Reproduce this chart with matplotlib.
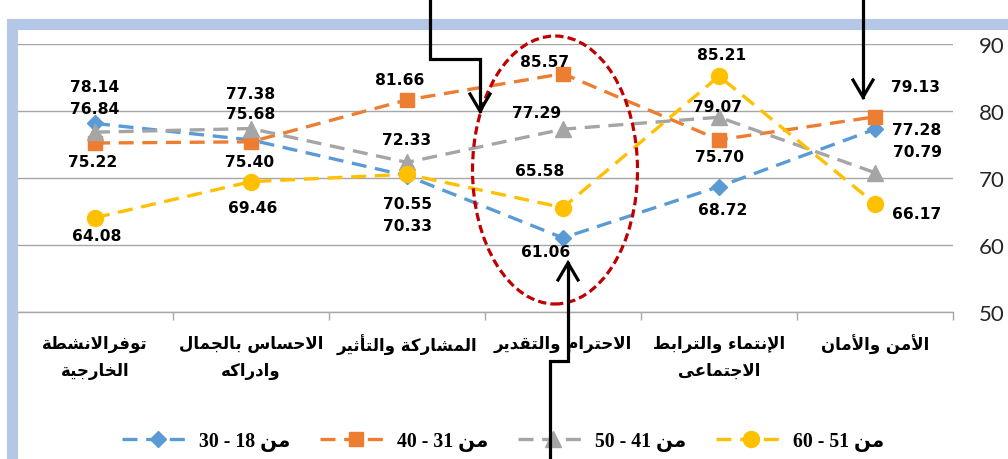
import matplotlib
matplotlib.use("Agg")
import matplotlib.pyplot as plt
from matplotlib.lines import Line2D
from matplotlib.patches import Ellipse, Rectangle

# ---------------- data ----------------
categories = [
    ["توفرالانشطة", "الخارجية"],
    ["الاحساس بالجمال", "وادراكه"],
    ["المشاركة والتأثير"],
    ["الاحترام والتقدير"],
    ["الإنتماء والترابط", "الاجتماعى"],
    ["الأمن والأمان"],
]
series_names = ["من 18 - 30", "من 31 - 40", "من 41 - 50", "من 51 - 60"]
age_18_30 = [78.14, 75.68, 70.33, 61.06, 68.72, 77.28]
age_31_40 = [75.22, 75.40, 81.66, 85.57, 75.70, 79.13]
age_41_50 = [76.84, 77.38, 72.33, 77.29, 79.07, 70.79]
age_51_60 = [64.08, 69.46, 70.55, 65.58, 85.21, 66.17]
y_ticks = [50, 60, 70, 80, 90]

# ---------------- minimal Arabic shaping (presentation forms) ----------------
FORMS = {
    'ء': ('\uFE80', None, None, None),
    'آ': ('\uFE81', '\uFE82', None, None),
    'أ': ('\uFE83', '\uFE84', None, None),
    'إ': ('\uFE87', '\uFE88', None, None),
    'ا': ('\uFE8D', '\uFE8E', None, None),
    'ب': ('\uFE8F', '\uFE90', '\uFE91', '\uFE92'),
    'ة': ('\uFE93', '\uFE94', None, None),
    'ت': ('\uFE95', '\uFE96', '\uFE97', '\uFE98'),
    'ث': ('\uFE99', '\uFE9A', '\uFE9B', '\uFE9C'),
    'ج': ('\uFE9D', '\uFE9E', '\uFE9F', '\uFEA0'),
    'ح': ('\uFEA1', '\uFEA2', '\uFEA3', '\uFEA4'),
    'خ': ('\uFEA5', '\uFEA6', '\uFEA7', '\uFEA8'),
    'د': ('\uFEA9', '\uFEAA', None, None),
    'ر': ('\uFEAD', '\uFEAE', None, None),
    'س': ('\uFEB1', '\uFEB2', '\uFEB3', '\uFEB4'),
    'ش': ('\uFEB5', '\uFEB6', '\uFEB7', '\uFEB8'),
    'ط': ('\uFEC1', '\uFEC2', '\uFEC3', '\uFEC4'),
    'ع': ('\uFEC9', '\uFECA', '\uFECB', '\uFECC'),
    'ف': ('\uFED1', '\uFED2', '\uFED3', '\uFED4'),
    'ق': ('\uFED5', '\uFED6', '\uFED7', '\uFED8'),
    'ك': ('\uFED9', '\uFEDA', '\uFEDB', '\uFEDC'),
    'ل': ('\uFEDD', '\uFEDE', '\uFEDF', '\uFEE0'),
    'م': ('\uFEE1', '\uFEE2', '\uFEE3', '\uFEE4'),
    'ن': ('\uFEE5', '\uFEE6', '\uFEE7', '\uFEE8'),
    'ه': ('\uFEE9', '\uFEEA', '\uFEEB', '\uFEEC'),
    'و': ('\uFEED', '\uFEEE', None, None),
    'ى': ('\uFEEF', '\uFEF0', None, None),
    'ي': ('\uFEF1', '\uFEF2', '\uFEF3', '\uFEF4'),
}
LAM_ALEF = {'آ': ('\uFEF5', '\uFEF6'), 'أ': ('\uFEF7', '\uFEF8'),
            'إ': ('\uFEF9', '\uFEFA'), 'ا': ('\uFEFB', '\uFEFC')}


def shape_word(word):
    units = []
    i = 0
    while i < len(word):
        c = word[i]
        if c == 'ل' and i + 1 < len(word) and word[i + 1] in LAM_ALEF:
            units.append(('LA', word[i + 1]))
            i += 2
        else:
            units.append(('C', c))
            i += 1

    def joins_next(u):
        if u[0] == 'LA':
            return False
        f = FORMS.get(u[1])
        return f is not None and f[2] is not None

    def joins_prev(u):
        if u[0] == 'LA':
            return True
        f = FORMS.get(u[1])
        return f is not None and f[1] is not None

    out = []
    for k, u in enumerate(units):
        prev_j = k > 0 and joins_next(units[k - 1]) and joins_prev(u)
        next_j = k + 1 < len(units) and joins_next(u) and joins_prev(units[k + 1])
        if u[0] == 'LA':
            iso, fin = LAM_ALEF[u[1]]
            out.append(fin if prev_j else iso)
            continue
        f = FORMS.get(u[1])
        if f is None:
            out.append(u[1])
            continue
        if prev_j and next_j:
            out.append(f[3])
        elif prev_j:
            out.append(f[1])
        elif next_j:
            out.append(f[2])
        else:
            out.append(f[0])
    return ''.join(out)


def visual(text):
    toks = text.split(' ')
    res = []
    for t in reversed(toks):
        if any('\u0600' <= ch <= '\u06FF' for ch in t):
            res.append(shape_word(t)[::-1])
        else:
            res.append(t)
    return ' '.join(res)


# ---------------- figure ----------------
W, H = 1008, 460
fig = plt.figure(figsize=(W / 100, H / 100), dpi=100)
fig.patch.set_facecolor('white')


def P(x, y):
    return (x / W, 1 - y / H)


ax = fig.add_axes([17 / W, 1 - 313 / H, (953 - 17) / W, (313 - 45) / H])
ax.set_facecolor('white')

colors = ['#5B9BD5', '#ED7D31', '#A5A5A5', '#FFC000']
markers = ['D', 's', '^', 'o']
msizes = [8.5, 10, 11, 11.5]
all_series = [age_18_30, age_31_40, age_41_50, age_51_60]
x = list(range(len(categories)))

handles = []
for vals, c, m, ms, name in zip(all_series, colors, markers, msizes, series_names):
    ln, = ax.plot(x, vals, color=c, lw=2.4, linestyle=(0, (4.5, 2.6)),
                  marker=m, markersize=ms, markerfacecolor=c, markeredgecolor=c,
                  zorder=3, label=visual(name))
    handles.append(ln)

# data labels (offsets in pixels: dx, dy with dy downward)
offsets = [
    [(0, -37), (0, -26), (0, 50), (-17, 14), (4, 23), (42, 0)],
    [(-2, 18), (-1, 20), (-7, -20), (-18, -12), (1, 17), (40, -30)],
    [(0, -24), (0, -35), (0, -23), (-26, -17), (-1, -11), (42, -21)],
    [(2, 18), (2, 26), (0, 29), (-23, -37), (3, -22), (42, 10)],
]
for vals, offs in zip(all_series, offsets):
    for xi, v, (dx, dy) in zip(x, vals, offs):
        ax.annotate(f"{v:.2f}", (xi, v), xytext=(dx, -dy), textcoords='offset pixels',
                    ha='center', va='center', fontsize=11.2, fontweight='bold',
                    family='DejaVu Sans', color='black', zorder=5)

ax.set_xlim(-0.5, len(categories) - 0.5)
ax.set_ylim(50, 90)
ax.set_yticks(y_ticks)
ax.yaxis.tick_right()
ax.tick_params(axis='y', length=0, pad=18.5, labelsize=16, labelcolor='#262626')
for lab in ax.get_yticklabels():
    lab.set_family('Lato')
    lab.set_horizontalalignment('left')
ax.grid(axis='y', color='#A6A6A6', lw=1.0)
ax.set_axisbelow(True)
for s in ['top', 'left', 'right']:
    ax.spines[s].set_visible(False)
ax.spines['bottom'].set_color('#A6A6A6')
ax.spines['bottom'].set_linewidth(1.0)

ax.set_xticks(x)
ax.set_xticklabels(['\n'.join(visual(l) for l in lines) for lines in categories],
                   fontsize=12, fontweight='bold', family='DejaVu Sans', linespacing=1.6)
ax.tick_params(axis='x', which='major', length=0, pad=16)
ax.set_xticks([i - 0.5 for i in range(len(categories) + 1)], minor=True)
ax.tick_params(axis='x', which='minor', length=6, color='#A6A6A6', width=1.0, direction='out')

# legend
leg = fig.legend(handles=handles, loc='center', bbox_to_anchor=(P(503, 442)),
                 ncol=4, frameon=False, handlelength=3.6, handletextpad=0.3,
                 columnspacing=1.5, numpoints=1,
                 prop={'family': ['Liberation Serif', 'DejaVu Sans'], 'weight': 'bold', 'size': 14.2})

# frame
fig.add_artist(Rectangle(P(11.5, 466), (1020 - 11.5) / W, (466 - 24.5) / H,
                         transform=fig.transFigure, fill=False,
                         edgecolor='#B4C7E7', lw=8, zorder=10))

# annotations: ellipse and arrows
cx, cy = P(555, 171)
fig.add_artist(Ellipse((cx, cy), 165 / W, 268 / H, transform=fig.transFigure,
                       fill=False, edgecolor='#C00000', lw=2.3,
                       linestyle=(0, (2.6, 1.3)), zorder=11))


def polyline(pts, lw=2.3):
    xs = [p[0] / W for p in pts]
    ys = [1 - p[1] / H for p in pts]
    fig.add_artist(Line2D(xs, ys, transform=fig.transFigure, color='black',
                          lw=lw, solid_joinstyle='miter', zorder=12))


# arrow 1 (top-left, pointing down)
polyline([(430, 0), (430, 60), (480, 60), (480, 112)])
polyline([(470, 95), (480, 112), (490, 95)])
# arrow 2 (top-right, pointing down)
polyline([(863, 0), (863, 98)])
polyline([(853, 81), (863, 98), (873, 81)])
# arrow 3 (bottom, pointing up)
polyline([(550, 465), (550, 362), (568, 362), (568, 264)])
polyline([(558, 281), (568, 264), (578, 281)])

fig.savefig('out.png', dpi=100)
